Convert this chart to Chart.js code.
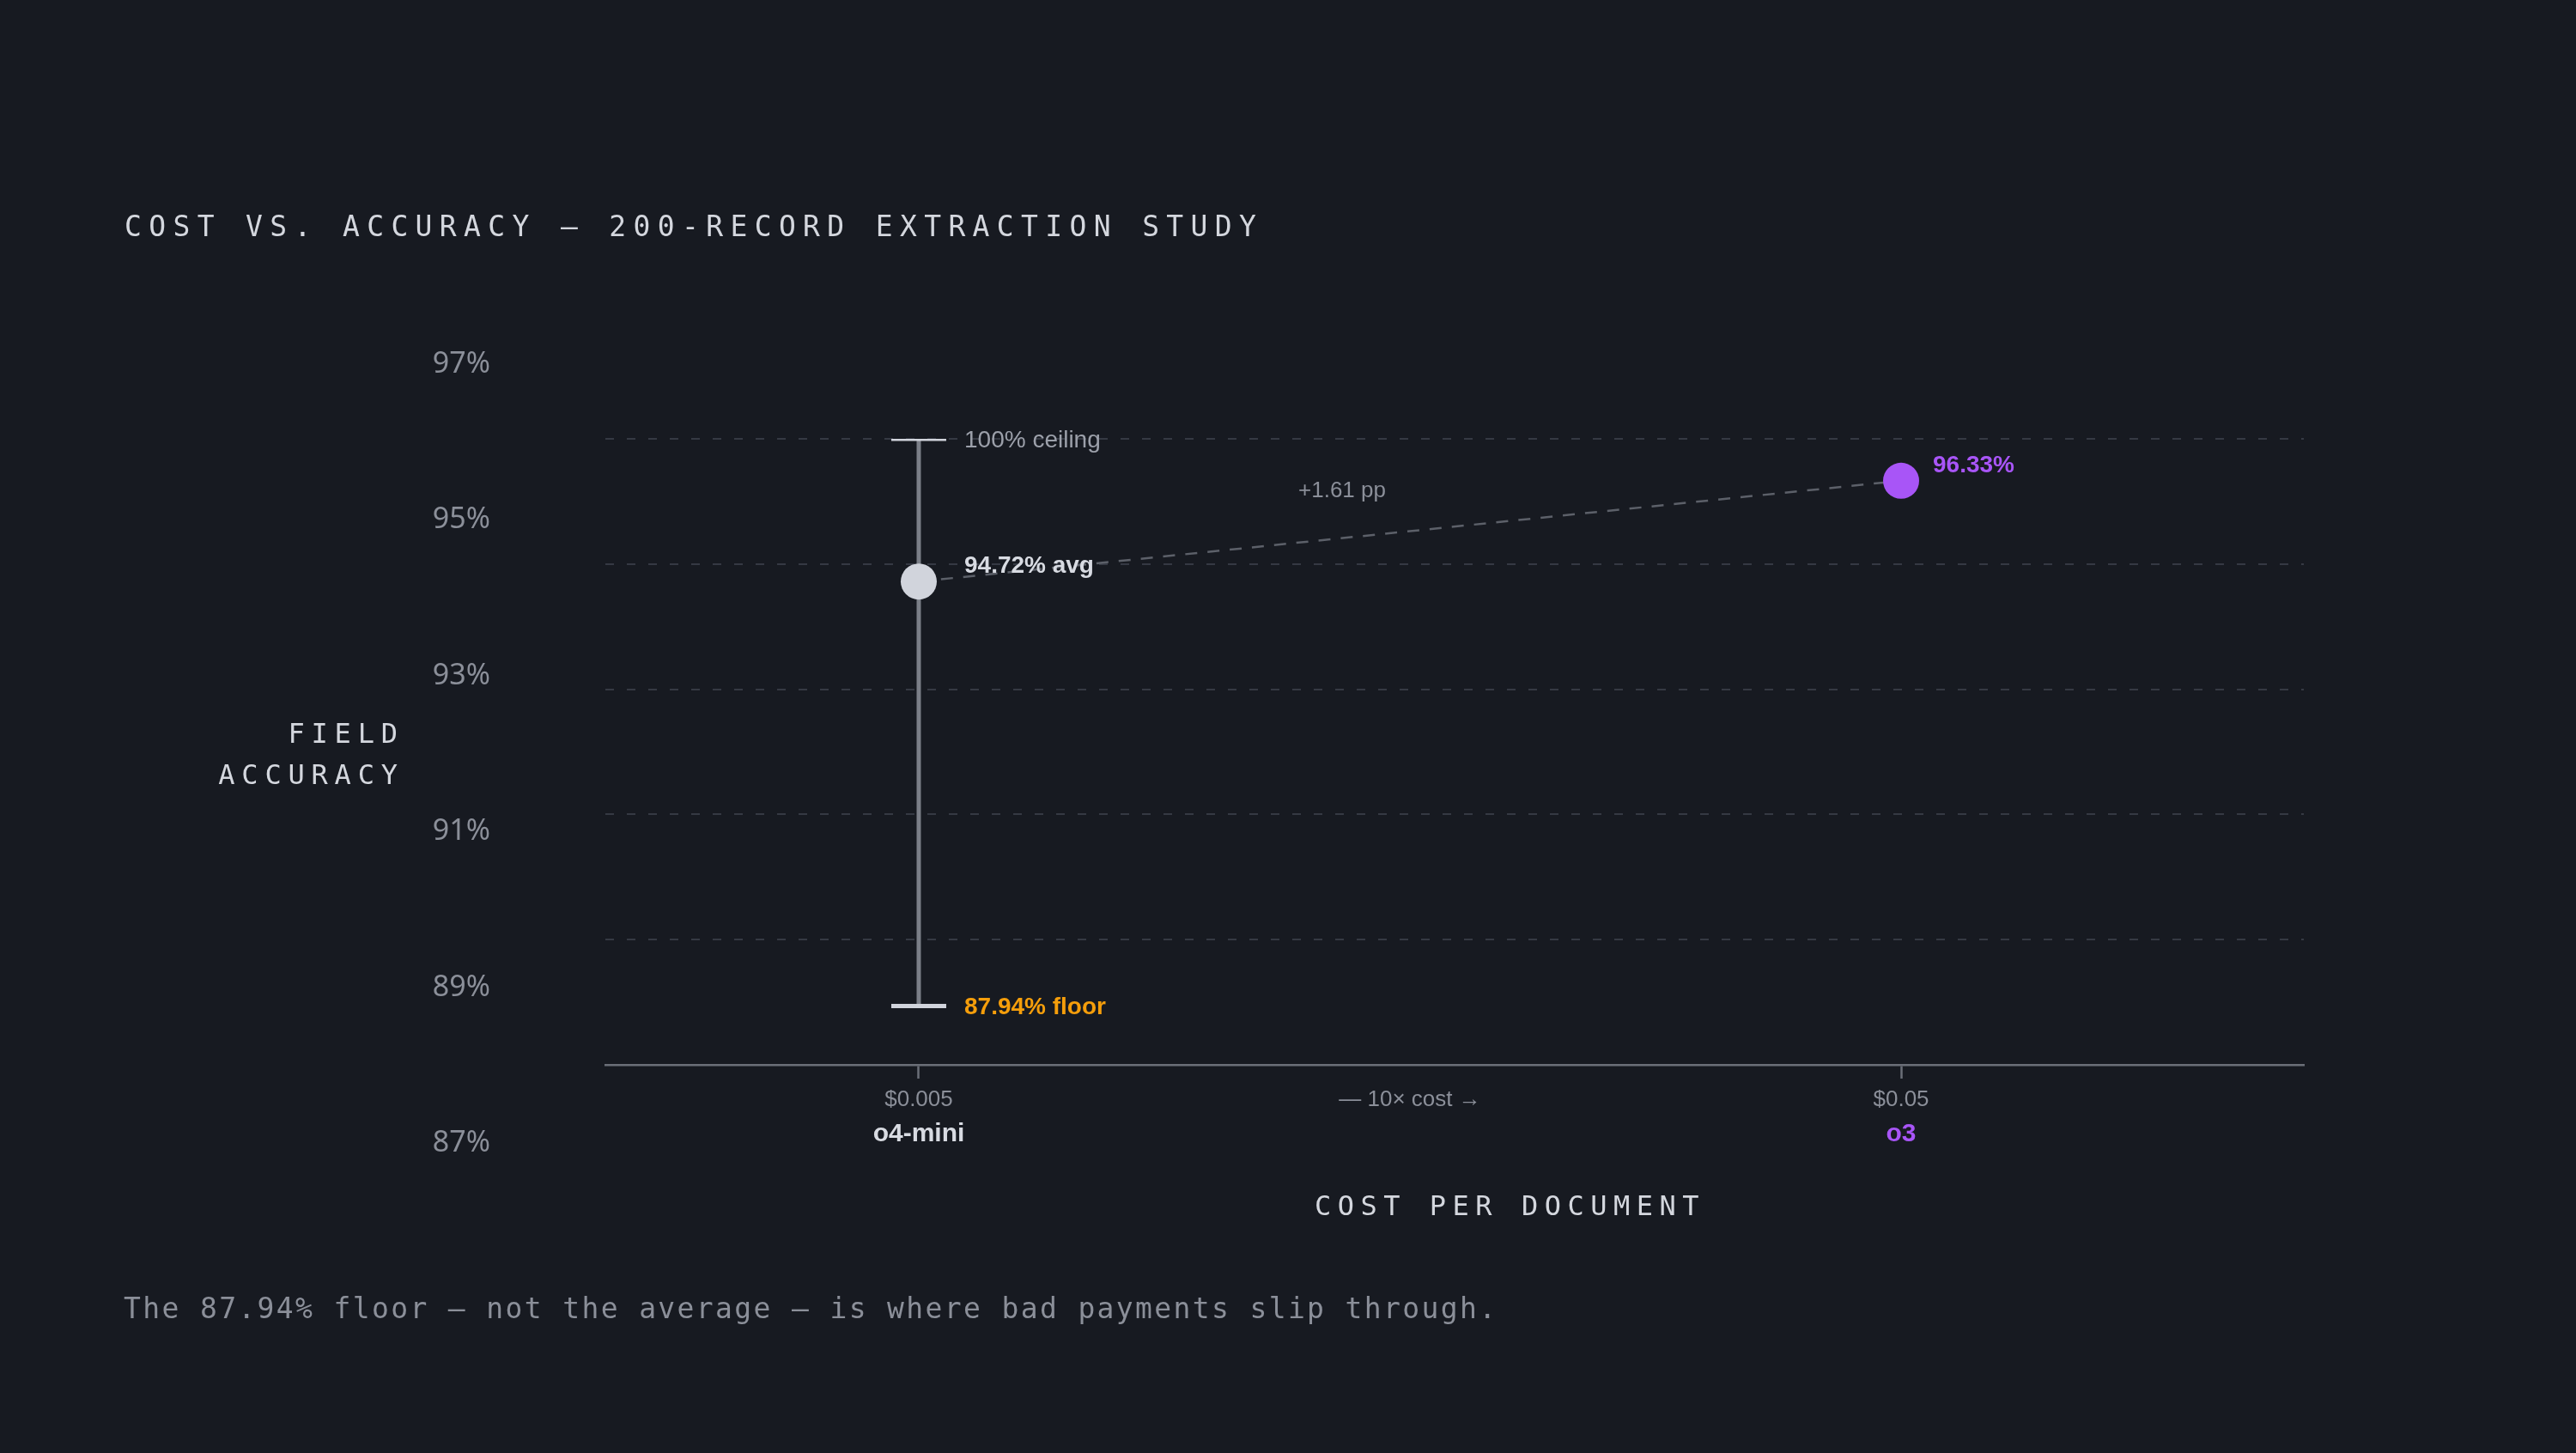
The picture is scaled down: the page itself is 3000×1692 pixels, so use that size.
<!DOCTYPE html>
<html>
<head>
<meta charset="utf-8">
<title>Cost vs. Accuracy</title>
<script src="https://cdn.jsdelivr.net/npm/chart.js@4.4.0/dist/chart.umd.min.js"></script>
<style>
    html, body { margin: 0; padding: 0; background: #171a21; }
    canvas { display: block; }
</style>
</head>
<body>
<canvas id="costChart" width="3000" height="1692"></canvas>
<script>
// ---- data ----
const models = ['o4-mini', 'o3'];
const costs = [0.005, 0.05];
const costLabels = ['$0.005', '$0.05'];
const avgAccuracy = [94.72, 96.33];
const floorAccuracy = 87.94;     // o4-mini worst record
const ceilingAccuracy = 100;     // o4-mini best record
const yTicks = [87, 89, 91, 93, 95, 97];
const modelColors = ['#d1d4dc', '#a855f7'];
const labelColors = ['#d8dbe2', '#a855f7'];

const yMin = yTicks[0];
const yMax = yTicks[yTicks.length - 1];

const MONO = '"DejaVu Sans Mono", "Liberation Mono", monospace';
const SANS = '"Liberation Sans", Arial, sans-serif';

// draws text one glyph at a time so letter spacing works everywhere
function spacedText(ctx, text, x, y, spacing, align) {
    const chars = Array.from(text);
    const widths = chars.map(c => ctx.measureText(c).width);
    const total = widths.reduce((a, b) => a + b, 0) + spacing * (chars.length - 1);
    let cx = align === 'right' ? x - total : align === 'center' ? x - total / 2 : x;
    ctx.textAlign = 'left';
    chars.forEach((c, i) => {
        ctx.fillText(c, cx, y);
        cx += widths[i] + spacing;
    });
}

function label(ctx, text, x, y, font, color, align) {
    ctx.font = font;
    ctx.fillStyle = color;
    ctx.textAlign = align || 'left';
    ctx.textBaseline = 'alphabetic';
    ctx.fillText(text, x, y);
}

const annotations = {
    id: 'annotations',
    afterDraw(chart) {
        const ctx = chart.ctx;
        const xs = chart.scales.x;
        const ys = chart.scales.y;
        const area = chart.chartArea;
        ctx.save();
        ctx.textBaseline = 'alphabetic';

        // title + footer
        ctx.font = '33px ' + MONO;
        ctx.fillStyle = '#d4d7de';
        spacedText(ctx, 'COST VS. ACCURACY \u2014 200-RECORD EXTRACTION STUDY', 145, 275, 8.35, 'left');
        ctx.fillStyle = '#8b8f99';
        spacedText(ctx, 'The ' + floorAccuracy.toFixed(2) + '% floor \u2014 not the average \u2014 is where bad payments slip through.', 144, 1535, 2.36, 'left');

        // axis titles
        ctx.font = '32px ' + MONO;
        ctx.fillStyle = '#d4d7de';
        spacedText(ctx, 'FIELD', 463, 865, 7.8, 'right');
        spacedText(ctx, 'ACCURACY', 463, 913, 7.8, 'right');
        spacedText(ctx, 'COST PER DOCUMENT', 1531, 1415, 7.5, 'left');

        // y tick labels, spread a bit wider than the grid like the original
        const cy = (area.top + area.bottom) / 2;
        yTicks.forEach(v => {
            const py = cy + (ys.getPixelForValue(v) - cy) * 1.245;
            label(ctx, v + '%', 571, py + 12, '34px "Noto Sans", sans-serif', '#8b8f99', 'right');
        });

        // x labels
        costs.forEach((c, i) => {
            const px = xs.getPixelForValue(c);
            label(ctx, costLabels[i], px, area.bottom + 48, '26px ' + SANS, '#8b8f99', 'center');
            label(ctx, models[i], px, area.bottom + 89, 'bold 30px ' + SANS, labelColors[i], 'center');
        });
        const x0 = xs.getPixelForValue(costs[0]);
        const x1 = xs.getPixelForValue(costs[1]);
        const ratio = Math.round(costs[1] / costs[0]);
        label(ctx, '\u2014 ' + ratio + '\u00d7 cost \u2192', (x0 + x1) / 2, area.bottom + 48, '26px ' + SANS, '#8b8f99', 'center');

        // o4-mini whisker labels
        const capTop = ys.getPixelForValue(Math.min(ceilingAccuracy, yMax));
        const capBot = ys.getPixelForValue(floorAccuracy);
        const avg0 = ys.getPixelForValue(avgAccuracy[0]);
        label(ctx, ceilingAccuracy + '% ceiling', x0 + 53, capTop + 10, '28px ' + SANS, '#9ca0aa');
        label(ctx, avgAccuracy[0].toFixed(2) + '% avg', x0 + 53, avg0 - 10, 'bold 28px ' + SANS, labelColors[0]);
        label(ctx, floorAccuracy.toFixed(2) + '% floor', x0 + 53, capBot + 10, 'bold 28px ' + SANS, '#f59e0b');

        // o3 label
        const avg1 = ys.getPixelForValue(avgAccuracy[1]);
        label(ctx, avgAccuracy[1].toFixed(2) + '%', x1 + 37, avg1 - 9.5, 'bold 28px ' + SANS, labelColors[1]);

        // delta label
        const diff = (avgAccuracy[1] - avgAccuracy[0]).toFixed(2);
        label(ctx, '+' + diff + ' pp', (x0 + x1) / 2 - 79, (avg0 + avg1) / 2 - 40, '26px ' + SANS, '#8b8f99', 'center');

        ctx.restore();
    }
};

new Chart(document.getElementById('costChart'), {
    type: 'scatter',
    data: {
        datasets: [
            {
                // model averages
                data: costs.map((c, i) => ({ x: c, y: avgAccuracy[i] })),
                pointRadius: 21,
                pointHoverRadius: 21,
                pointBackgroundColor: modelColors,
                pointBorderWidth: 0,
                order: 0
            },
            {
                // whisker caps
                data: [
                    { x: costs[0], y: Math.min(ceilingAccuracy, yMax) },
                    { x: costs[0], y: floorAccuracy }
                ],
                pointStyle: 'line',
                pointRadius: 32,
                pointBorderWidth: 5,
                pointBorderColor: '#d1d4dc',
                order: 1
            },
            {
                // whisker stem
                type: 'line',
                data: [
                    { x: costs[0], y: floorAccuracy },
                    { x: costs[0], y: Math.min(ceilingAccuracy, yMax) }
                ],
                borderColor: '#7b7f88',
                borderWidth: 5,
                pointRadius: 0,
                order: 2
            },
            {
                // connector
                type: 'line',
                data: costs.map((c, i) => ({ x: c, y: avgAccuracy[i] })),
                borderColor: '#5c6069',
                borderWidth: 2.5,
                borderDash: [14, 12],
                pointRadius: 0,
                order: 3
            }
        ]
    },
    options: {
        responsive: false,
        animation: false,
        layout: { padding: { left: 705, right: 317, top: 511, bottom: 452 } },
        plugins: {
            legend: { display: false },
            tooltip: { enabled: false }
        },
        scales: {
            x: {
                type: 'logarithmic',
                min: 0.0023985,
                max: 0.1285,
                afterBuildTicks: scale => { scale.ticks = costs.map(v => ({ value: v })); },
                afterFit: scale => { scale.height = 0; },
                ticks: { display: false },
                grid: {
                    drawOnChartArea: false,
                    drawTicks: true,
                    tickLength: 16,
                    tickWidth: 2.5,
                    tickColor: '#6b6f78'
                },
                border: { display: true, color: '#6b6f78', width: 2.5 }
            },
            y: {
                min: yMin,
                max: yMax,
                afterBuildTicks: scale => { scale.ticks = yTicks.map(v => ({ value: v })); },
                afterFit: scale => { scale.width = 0; },
                ticks: { display: false },
                grid: { color: '#353943', lineWidth: 2, drawTicks: false },
                border: { display: false, dash: [10, 15] }
            }
        }
    },
    plugins: [annotations]
});
</script>
</body>
</html>
